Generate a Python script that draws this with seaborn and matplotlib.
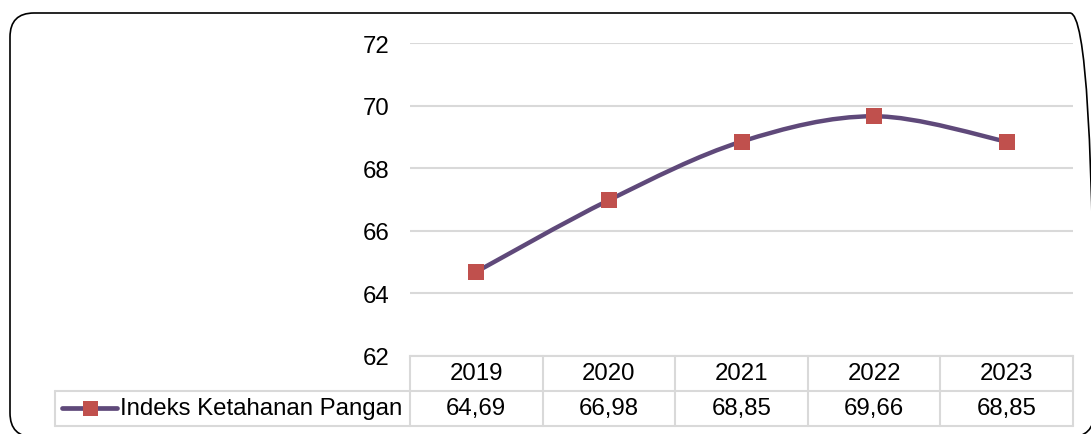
import numpy as np
import pandas as pd
import matplotlib.pyplot as plt
import seaborn as sns
from matplotlib.path import Path
from matplotlib.patches import PathPatch, FancyBboxPatch
from matplotlib.lines import Line2D
import matplotlib.transforms as mtransforms

years = ['2019', '2020', '2021', '2022', '2023']
values = [64.69, 66.98, 68.85, 69.66, 68.85]
series_name = 'Indeks Ketahanan Pangan'
yticks = [62, 64, 66, 68, 70, 72]

line_color = '#5F497A'
marker_color = '#C0504D'
grid_color = '#D9D9D9'

sns.set_theme(style='white')
plt.rcParams['font.family'] = ['Liberation Sans', 'DejaVu Sans']
plt.rcParams['text.color'] = 'black'

df = pd.DataFrame({'year': years, 'value': values})
df['pos'] = np.arange(len(df))

W, H = 1091, 435
fig = plt.figure(figsize=(W / 100, H / 100), dpi=100)
ax = fig.add_axes([410 / W, 78 / H, 663 / W, 313 / H])

# smoothed line (excel style bezier through the points)
px = df['pos'].to_numpy(dtype=float)
py = df['value'].to_numpy(dtype=float)
n = len(px)
verts = [(px[0], py[0])]
codes = [Path.MOVETO]
for i in range(n - 1):
    a = max(i - 1, 0)
    b = min(i + 2, n - 1)
    c1 = (px[i] + (px[i + 1] - px[a]) / 6, py[i] + (py[i + 1] - py[a]) / 6)
    c2 = (px[i + 1] - (px[b] - px[i]) / 6, py[i + 1] - (py[b] - py[i]) / 6)
    verts += [c1, c2, (px[i + 1], py[i + 1])]
    codes += [Path.CURVE4, Path.CURVE4, Path.CURVE4]
ax.add_patch(PathPatch(Path(verts, codes), facecolor='none', edgecolor=line_color,
                       lw=3.2, capstyle='round', zorder=3))

sns.scatterplot(data=df, x='pos', y='value', marker='s', s=117, color=marker_color,
                edgecolor=marker_color, linewidth=0, zorder=4, ax=ax, legend=False)

ax.set_xlim(-0.5, len(years) - 0.5)
ax.set_ylim(yticks[0], yticks[-1])
ax.set_yticks(yticks)
ax.set_xticks([])
ax.set_xlabel('')
ax.set_ylabel('')
ax.yaxis.grid(True, color=grid_color, lw=1.5)
ax.tick_params(axis='y', length=0, pad=15, labelsize=17.3, labelcolor='black')
for s in ['top', 'right', 'left']:
    ax.spines[s].set_visible(False)
ax.spines['bottom'].set_color(grid_color)
ax.spines['bottom'].set_linewidth(1.5)

# data table under the axis
rh = 35 / 313
leg_left = (55 - 410) / 663
tcell = dict(color=grid_color, lw=1.5, transform=ax.transAxes, clip_on=False)
for k in range(len(years) + 1):
    ax.add_line(Line2D([k / len(years)] * 2, [0, -2 * rh], **tcell))
ax.add_line(Line2D([leg_left, 1], [-rh, -rh], **tcell))
ax.add_line(Line2D([leg_left, 1], [-2 * rh, -2 * rh], **tcell))
ax.add_line(Line2D([leg_left, leg_left], [-rh, -2 * rh], **tcell))

blend = mtransforms.blended_transform_factory(ax.transData, ax.transAxes)
for p, yr, v in zip(df['pos'], df['year'], df['value']):
    ax.text(p, -rh / 2, yr, transform=blend, ha='center', va='center', fontsize=17.3,
            color='black', clip_on=False)
    ax.text(p, -1.5 * rh, f'{v:.2f}'.replace('.', ','), transform=blend,
            ha='center', va='center', fontsize=17.3, color='black', clip_on=False)

# legend key in the table
ky = -1.5 * rh + 0.003
ax.add_line(Line2D([(62 - 410) / 663, (117 - 410) / 663], [ky, ky], color=line_color, lw=3.4,
                   solid_capstyle='round', transform=ax.transAxes, clip_on=False))
ax.add_line(Line2D([(89.5 - 410) / 663], [ky], marker='s', markersize=10.8, color=marker_color,
                   markeredgewidth=0, transform=ax.transAxes, clip_on=False))
ax.text((120 - 410) / 663, -1.5 * rh, series_name, transform=ax.transAxes, ha='left',
        va='center', fontsize=17.3, color='black', clip_on=False)

# rounded chart frame (inches); the right side runs off the picture
frame = FancyBboxPatch((0.10, -0.03), 10.84, 4.24, boxstyle='round,pad=0,rounding_size=0.24',
                       transform=fig.dpi_scale_trans, facecolor='none', edgecolor='black',
                       lw=1.2, clip_on=False)
fig.add_artist(frame)

fig.savefig('out.png', dpi=100)
